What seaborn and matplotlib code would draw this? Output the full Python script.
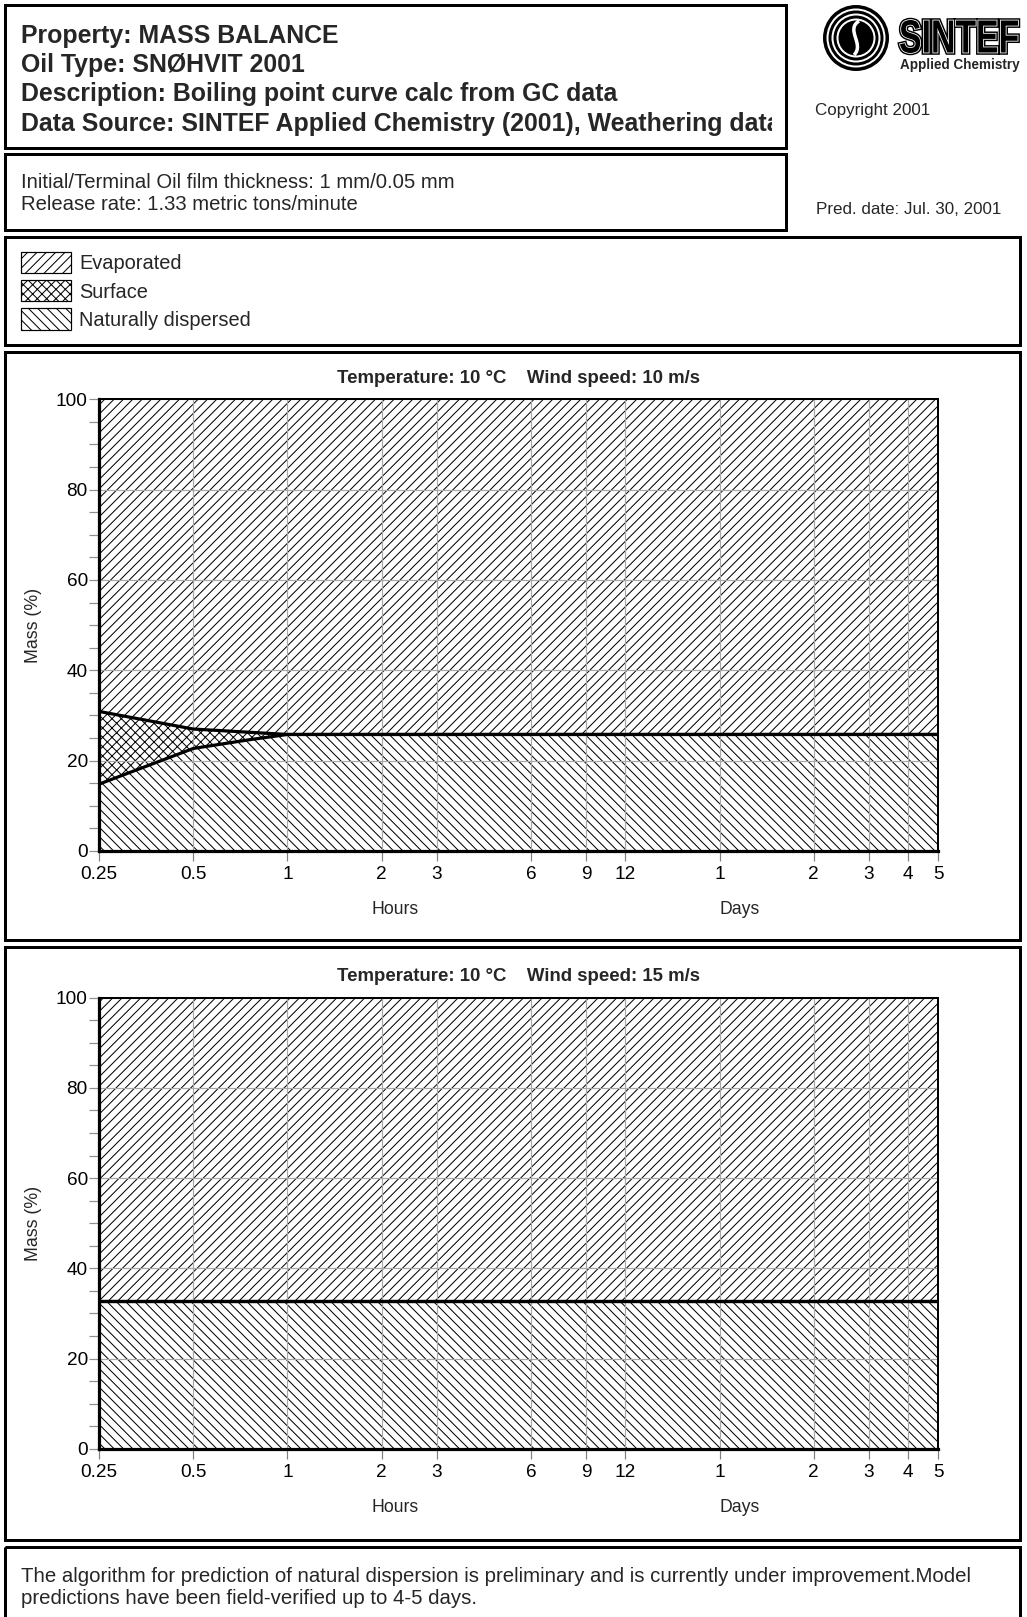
import matplotlib
matplotlib.use("Agg")
import matplotlib.pyplot as plt
import matplotlib.patheffects as pe
import seaborn as sns
from matplotlib.patches import Rectangle, Circle, PathPatch
from matplotlib.path import Path
from matplotlib.textpath import TextPath
from matplotlib.font_manager import FontProperties
from matplotlib.transforms import Affine2D, Bbox, TransformedBbox
from matplotlib.ticker import MultipleLocator, NullLocator

# ---------------------------------------------------------------- data
hours = [0.25, 0.5, 0.75, 1, 2, 3, 6, 9, 12, 24, 48, 72, 96, 120]
tick_hours = [0.25, 0.5, 1, 2, 3, 6, 9, 12, 24, 48, 72, 96, 120]
tick_labels = ["0.25", "0.5", "1", "2", "3", "6", "9", "12", "1", "2", "3", "4", "5"]

# wind 10 m/s (mass %)
dispersed_10 = [14.8, 22.7, 24.6, 25.8, 25.8, 25.8, 25.8, 25.8, 25.8, 25.8, 25.8, 25.8, 25.8, 25.8]
surface_10 = [16.1, 4.3, 1.7, 0, 0, 0, 0, 0, 0, 0, 0, 0, 0, 0]
evaporated_10 = [69.1, 73.0, 73.7, 74.2, 74.2, 74.2, 74.2, 74.2, 74.2, 74.2, 74.2, 74.2, 74.2, 74.2]

# wind 15 m/s (mass %)
dispersed_15 = [32.8, 32.8, 32.8, 32.8, 32.8, 32.8, 32.8, 32.8, 32.8, 32.8, 32.8, 32.8, 32.8, 32.8]
surface_15 = [0, 0, 0, 0, 0, 0, 0, 0, 0, 0, 0, 0, 0, 0]
evaporated_15 = [67.2, 67.2, 67.2, 67.2, 67.2, 67.2, 67.2, 67.2, 67.2, 67.2, 67.2, 67.2, 67.2, 67.2]

titles = ["Temperature: 10 \u00b0C    Wind speed: 10 m/s",
          "Temperature: 10 \u00b0C    Wind speed: 15 m/s"]

header_lines = ["Property: MASS BALANCE",
                "Oil Type: SN\u00d8HVIT 2001",
                "Description: Boiling point curve calc from GC data",
                "Data Source: SINTEF Applied Chemistry (2001), Weathering data"]
info_lines = ["Initial/Terminal Oil film thickness: 1 mm/0.05 mm",
              "Release rate: 1.33 metric tons/minute"]
legend_labels = ["Evaporated", "Surface", "Naturally dispersed"]
HATCH_EVAP, HATCH_SURF, HATCH_DISP = "////", "xxxx", "\\\\\\\\"
legend_hatches = [HATCH_EVAP, HATCH_SURF, HATCH_DISP]
footer_lines = ["The algorithm for prediction of natural dispersion is preliminary and is currently under improvement.Model",
                "predictions have been field-verified up to 4-5 days."]

# ---------------------------------------------------------------- style
sns.set_theme(style="white")
plt.rcParams["font.family"] = ["Liberation Sans", "DejaVu Sans"]
plt.rcParams["hatch.linewidth"] = 0.65
plt.rcParams["hatch.color"] = "black"

W, H, DPI = 1027, 1617, 112


def pt(pixels):
    return pixels * 72.0 / DPI


fig = plt.figure(figsize=(W / DPI, H / DPI), dpi=DPI)
fig.patch.set_facecolor("white")

# page layer in pixel units (y downwards)
page = fig.add_axes([0, 0, 1, 1], zorder=0)
page.set_xlim(0, W)
page.set_ylim(H, 0)
page.axis("off")

BOX_LW = pt(3.0)


def box(x0, y0, x1, y1):
    r = Rectangle((x0, y0), x1 - x0, y1 - y0, fill=False, edgecolor="black",
                  lw=BOX_LW, joinstyle="miter")
    page.add_patch(r)
    return r


box(5, 5, 786, 148)
box(5, 154, 786, 230)
box(5, 237, 1020, 345)
box(5, 351.5, 1020, 940)
box(5, 946.5, 1020, 1539.5)
box(5, 1546.5, 1020, 1640)

# header block (text area stops short of the frame)
header_clip = TransformedBbox(Bbox.from_extents(7, 7, 772, 146), page.transData)
for i, line in enumerate(header_lines):
    t = page.text(21, 43 + 29.2 * i, line, fontsize=16.0, fontweight="bold",
                  va="baseline", ha="left")
    t.set_clip_box(header_clip)
    t.set_clip_on(True)

for i, line in enumerate(info_lines):
    page.text(21, 188.5 + 21 * i, line, fontsize=13.05, va="baseline", ha="left")

page.text(815, 115, "Copyright 2001", fontsize=10.95, va="baseline", ha="left")
page.text(816, 213.5, "Pred. date: Jul. 30, 2001", fontsize=10.95, va="baseline", ha="left")

# logo: concentric rings
cx, cy = 856, 38
for r, c in [(33, "black"), (29.5, "white"), (27.5, "black"), (24.5, "white"),
             (22.5, "black"), (19.5, "white"), (17.5, "black")]:
    page.add_patch(Circle((cx, cy), r, facecolor=c, edgecolor="none"))
s_path = Path([(cx + 3, cy - 17), (cx - 11, cy - 8), (cx + 9, cy + 6), (cx - 2, cy + 17)],
              [Path.MOVETO, Path.CURVE4, Path.CURVE4, Path.CURVE4])
page.add_patch(PathPatch(s_path, facecolor="none", edgecolor="white", lw=pt(3.5)))

fp = FontProperties(family="Liberation Sans", weight="bold")
tp = TextPath((0, 0), "SINTEF", size=50, prop=fp)
ext = tp.get_extents()
sx = 118.0 / ext.width
sy = 33.0 / ext.height
logo_tf = Affine2D().translate(-ext.x0, -ext.y0).scale(sx, -sy).translate(900, 53)
logo = PathPatch(logo_tf.transform_path(tp), facecolor="black", edgecolor="none")
logo.set_path_effects([pe.Stroke(linewidth=pt(4.5), foreground="black"),
                       pe.Stroke(linewidth=pt(1.6), foreground="white"),
                       pe.Normal()])
page.add_patch(logo)
page.text(960, 68.5, "Applied Chemistry", fontsize=8.7, fontweight="bold",
          ha="center", va="baseline")

# legend block
for i, (lab, hatch) in enumerate(zip(legend_labels, legend_hatches)):
    y0 = 251.5 + 28.3 * i
    page.add_patch(Rectangle((21, y0), 49.5, 21.5, facecolor="white", edgecolor="black",
                             hatch=hatch, lw=pt(1.2)))
    page.text(79, y0 + 17.8, lab, fontsize=12.9, va="baseline", ha="left")

for i, line in enumerate(footer_lines):
    page.text(21, 1582.5 + 21 * i, line, fontsize=13.1, va="baseline", ha="left")

# ---------------------------------------------------------------- charts
AX_L, AX_R = 99.0, 938.3
chart_rows = [(399.3, 851.0), (997.7, 1448.7)]
series = [(dispersed_10, surface_10, evaporated_10),
          (dispersed_15, surface_15, evaporated_15)]

for (top, bottom), (disp, surf, evap), title in zip(chart_rows, series, titles):
    ax = fig.add_axes([AX_L / W, 1 - bottom / H, (AX_R - AX_L) / W, (bottom - top) / H], zorder=2)
    ax.set_facecolor("white")

    lower = list(disp)
    middle = [d + s for d, s in zip(disp, surf)]
    upper = [m + e for m, e in zip(middle, evap)]

    ax.fill_between(hours, 0, lower, facecolor="white", edgecolor="black",
                    hatch=HATCH_DISP, lw=0, zorder=1)
    ax.fill_between(hours, lower, middle, facecolor="white", edgecolor="black",
                    hatch=HATCH_SURF, lw=0, zorder=1)
    ax.fill_between(hours, middle, upper, facecolor="white", edgecolor="black",
                    hatch=HATCH_EVAP, lw=0, zorder=1)

    sns.lineplot(x=hours, y=lower, ax=ax, color="black", lw=pt(3.2), zorder=3)
    sns.lineplot(x=hours, y=middle, ax=ax, color="black", lw=pt(3.2), zorder=3)

    ax.set_xscale("log")
    ax.set_xlim(0.25, 120)
    ax.set_ylim(0, 100)
    ax.set_xticks(tick_hours)
    ax.set_xticklabels(tick_labels)
    ax.xaxis.set_minor_locator(NullLocator())
    ax.yaxis.set_major_locator(MultipleLocator(20))
    ax.yaxis.set_minor_locator(MultipleLocator(5))

    ax.set_axisbelow(False)
    ax.grid(True, which="major", color="#a8a8a8", lw=pt(1.2))
    ax.tick_params(axis="x", which="major", bottom=True, direction="out",
                   length=pt(10), width=pt(1.2), color="#808080", pad=pt(5.5),
                   labelsize=12.2, labelcolor="black")
    ax.tick_params(axis="y", which="both", left=True, direction="out",
                   length=pt(10), width=pt(1.2), color="#909090", pad=pt(1.2),
                   labelsize=12.2, labelcolor="black")
    ax.set_xlabel("")
    ax.set_ylabel("")

    for side, w in [("left", 3.2), ("bottom", 3.2), ("top", 2.0), ("right", 2.0)]:
        ax.spines[side].set_visible(True)
        ax.spines[side].set_color("black")
        ax.spines[side].set_linewidth(pt(w))
        ax.spines[side].set_zorder(4)

    page.text((AX_L + AX_R) / 2, top - 16.6, title, fontsize=12.0, fontweight="bold",
              ha="center", va="baseline")
    page.text(395, bottom + 63.3, "Hours", fontsize=11.3, ha="center", va="baseline")
    page.text(740, bottom + 63.3, "Days", fontsize=11.3, ha="center", va="baseline")
    page.text(34, (top + bottom) / 2, "Mass (%)", fontsize=11.4, rotation=90,
              ha="center", va="center")

fig.savefig("out.png", dpi=DPI, facecolor="white")
